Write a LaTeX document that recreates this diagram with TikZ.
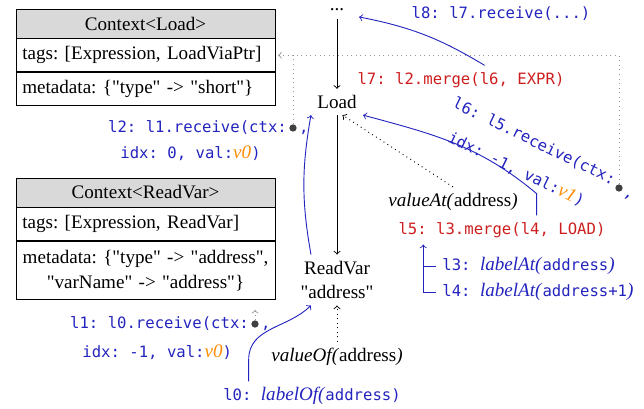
\documentclass[tikz,border=0pt]{standalone}
\usepackage{fontspec}
\setmainfont{Liberation Serif}[Ligatures=TeXOff]
\setmonofont{DejaVu Sans Mono}[Scale=0.818]
\usetikzlibrary{positioning,calc}
\definecolor{codeblue}{RGB}{35,35,190}
\definecolor{codered}{RGB}{205,30,30}
\definecolor{valorange}{RGB}{255,140,0}
\newcommand{\fn}[1]{\textrm{\itshape #1}}
\newcommand{\valname}[1]{\textcolor{valorange}{\textrm{\itshape #1}}}
\frenchspacing

\begin{document}
\begin{tikzpicture}[
  x=0.55pt, y=-0.55pt,
  font=\fontsize{10.5}{13.5}\selectfont,
  ctxhead/.style={draw, fill=black!15, minimum width=142.5pt, minimum height=16pt, inner sep=0pt},
  ctxrow/.style={draw, text width=135.5pt, inner xsep=3.5pt, minimum height=18.15pt, align=left},
  instr/.style={font=\fontsize{10.5}{13.5}\selectfont\ttfamily, text=codeblue,
                text height=7pt, text depth=2pt},
  mergeop/.style={instr, text=codered},
  ctxdot/.style={circle, fill=black!75, inner sep=0pt, minimum size=4pt},
  flow/.style={->, line width=0.5pt},
  recv/.style={->, codeblue, line width=0.5pt},
  ctxlink/.style={->, dotted, black!40, line width=0.5pt},
  vallink/.style={->, dotted, line width=0.5pt},
]
\useasboundingbox (0,0) rectangle (644,409);

% Contexts
\node[ctxhead] (ctxloadhead) at (145.5,23.5) {Context<Load>};
\node[ctxrow, below=0pt of ctxloadhead] (ctxloadtags) {tags: [Expression, LoadViaPtr]};
\node[ctxrow, below=0pt of ctxloadtags] (ctxloadmeta) {metadata: \{"type" -> "short"\}};

\node[ctxhead] (ctxrvhead) at (145.5,192.5) {Context<ReadVar>};
\node[ctxrow, below=0pt of ctxrvhead] (ctxrvtags) {tags: [Expression, ReadVar]};
\node[ctxrow, below=0pt of ctxrvtags, align=center, minimum height=31.9pt] (ctxrvmeta)
  {metadata: \{"type" -> "address",\\"varName" -> "address"\}};

% IR nodes
\node[inner sep=1pt] (dots) at (337,10) {...};
\node (load) at (337,102) {Load};
\node[align=center] (readvar) at (337,280) {ReadVar\\"address"};
\node (valueof) at (337,357) {\textit{valueOf(}address\textit{)}};
\node (valueat) at (453,202) {\textit{valueAt(}address\textit{)}};

% Instructions
\node[instr] (l8) at (501,14) {l8: l7.receive(...)};
\node[mergeop] (l7) at (461,80) {l7: l2.merge(l6, EXPR)};
\node[mergeop] (l5) at (502,230) {l5: l3.merge(l4, LOAD)};
\node[instr, anchor=west] (l3) at (436,266) {l3: \fn{labelAt(}address\fn{)}};
\node[instr, anchor=west] (l4) at (436,292) {l4: \fn{labelAt(}address+1\fn{)}};
\node[instr] (labelof) at (312,396) {l0: \fn{labelOf(}address)};

% Receive arguments
\node[ctxdot] (l2dot) at (293,128) {};
\node[instr, left=0pt of l2dot, inner xsep=1pt] (l2ctx) {l2: l1.receive(ctx:};
\node[instr, right=0pt of l2dot, inner xsep=1pt] (l2comma) {,};
\node[instr, anchor=west] (l2args) at (114,154) {idx: 0, val:\valname{v0})};

\node[ctxdot] (l1dot) at (255,324) {};
\node[instr, left=0pt of l1dot, inner xsep=1pt] (l1ctx) {l1: l0.receive(ctx:};
\node[instr, right=0pt of l1dot, inner xsep=1pt] (l1comma) {,};
\node[instr, anchor=west] (l1args) at (76,353) {idx: -1, val:\valname{v0})};

\node[instr, rotate=-26] (l6ctx) at (534,142) {l6: l5.receive(ctx:};
\node[ctxdot] (l6dot) at (619,188) {};
\node[instr, rotate=-26, inner sep=0pt] (l6comma) at (629,193) {,};
\node[instr, rotate=-26] (l6args) at (516,170) {idx: -1, val:\valname{v1})};

% Control flow
\draw[flow, shorten <=3pt] (dots) -- (load);
\draw[flow] (load) -- (readvar);

% Value dependencies
\draw[vallink] (valueof) -- (readvar);
\draw[vallink] (valueat.north) -- ([xshift=3pt]load.south);

% Receive and merge edges
\draw[recv] ([xshift=13pt]l7.north) to[bend right=10] ([xshift=7pt,yshift=-2pt]dots.south east);
\draw[recv] (load.south west |- readvar.north) to[bend left=10] (load.south west);
\draw[recv] ([xshift=17.5pt]labelof.north west) -- ++(0pt,12pt)
  to[out=90,in=-135] (readvar.south -| load.south west);
\draw[recv] ([xshift=19pt]l5.north) -- ++(0pt,12pt) to[out=140,in=-15] (load.south east);
\draw[recv] (l4.west) -- ++(-7pt,0pt) coordinate (brk) -- (brk |- l5.south);
\draw[codeblue, line width=0.5pt] (l3.west) -- (l3.west -| brk);

% Context links
\draw[ctxlink, shorten >=1.5pt] (l6dot) |- (ctxloadtags.east);
\draw[dotted, black!40, line width=0.5pt] (l2dot) -- (l2dot |- ctxloadtags.east);
\draw[ctxlink, shorten >=5.5pt] (l1dot) -- (l1dot |- ctxrvmeta.south);
\end{tikzpicture}
\end{document}
